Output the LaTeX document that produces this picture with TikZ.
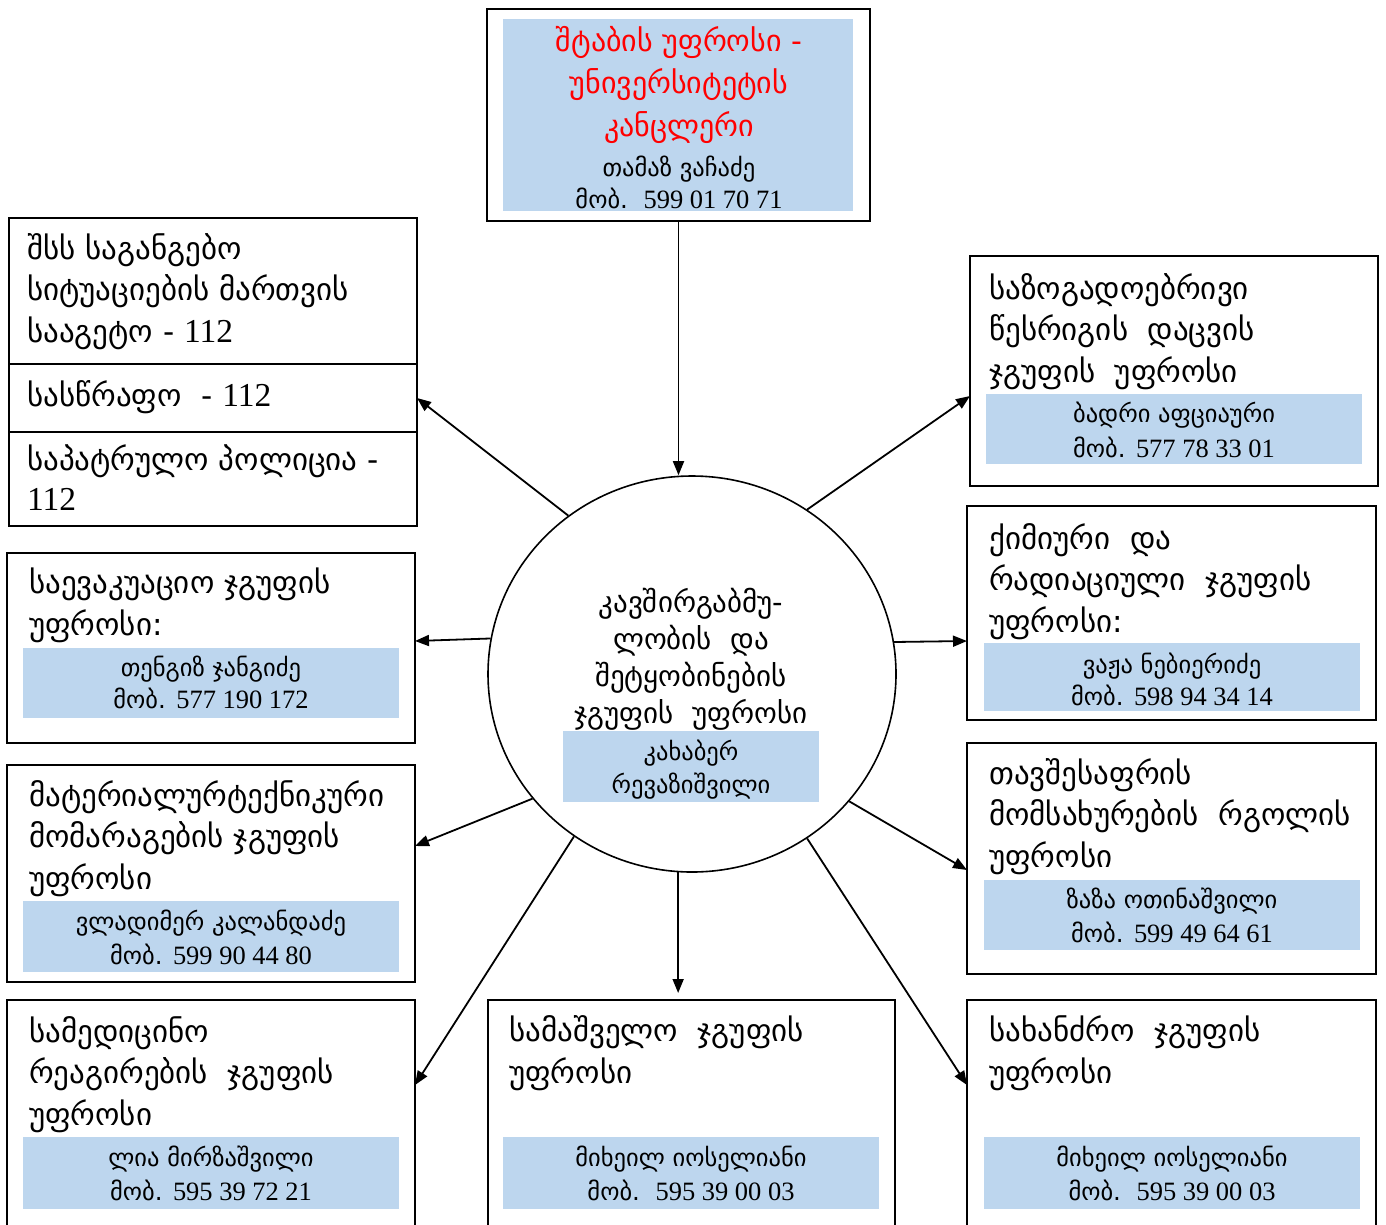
\documentclass[tikz,border=0pt]{standalone}
\usepackage{fontspec}
\setmainfont{DejaVu Sans}
\newfontfamily\numfont{Liberation Serif}[Scale=1.08]
\newcommand\dg[1]{{\numfont #1}}
\usetikzlibrary{shapes.geometric,arrows.meta}
\definecolor{bluefill}{HTML}{BDD6EE}
\definecolor{redtxt}{HTML}{FF0000}
\begin{document}
\begin{tikzpicture}[x=1pt,y=-1pt,
  box/.style={draw, line width=1.8pt, anchor=north west, inner sep=0pt, outer sep=0pt},
  bluebox/.style={fill=bluefill, anchor=north west, inner sep=0pt, outer sep=0pt},
  ttl/.style={font=\fontsize{31}{41.5}\selectfont, align=left, anchor=base west, inner sep=0pt},
  nm/.style={font=\fontsize{24.5}{33}\selectfont, align=center, anchor=base, inner sep=0pt},
  arr/.style={-{Triangle[length=14pt,width=11pt]}, line width=1.8pt}]
\useasboundingbox (0,0) rectangle (1386,1224);

% top box
\node[box, minimum width=383, minimum height=212] (top) at (487,9) {};
\node[bluebox, minimum width=350, minimum height=192] (topb) at (503,19) {};
\node[font=\fontsize{30}{42.5}\selectfont, text=redtxt, align=center, anchor=base, inner sep=0pt] (toph) at (679,136) {შტაბის უფროსი -\\უნივერსიტეტის\\კანცლერი};
\node[nm, font=\fontsize{24.5}{32}\selectfont] (topn) at (679,208) {თამაზ ვაჩაძე\\მობ.\ \ \dg{599 01 70 71}};

% left top group
\node[box, minimum width=408, minimum height=146] (lt1) at (9,218) {};
\node[box, minimum width=408, minimum height=68] (lt2) at (9,364) {};
\node[box, minimum width=408, minimum height=94] (lt3) at (9,432) {};
\node[ttl] (lt1t) at (27,342) {შსს საგანგებო\\სიტუაციების მართვის\\სააგეტო - \dg{112}};
\node[ttl] (lt2t) at (27,406) {სასწრაფო\ \ - \dg{112}};
\node[ttl, font=\fontsize{31}{40}\selectfont] (lt3t) at (27,510) {საპატრულო პოლიცია -\\\dg{112}};

% right top
\node[box, minimum width=408, minimum height=230] (rt) at (970,256) {};
\node[bluebox, minimum width=376, minimum height=70] (rtb) at (986,394) {};
\node[ttl] (rtt) at (989,382) {საზოგადოებრივი\\წესრიგის\ \ დაცვის\\ჯგუფის\ \ უფროსი};
\node[nm, font=\fontsize{24.5}{35}\selectfont] (rtn) at (1174,457) {ბადრი აფციაური\\მობ. \dg{577 78 33 01}};

% evacuation
\node[box, minimum width=408, minimum height=190] (ev) at (7,553) {};
\node[bluebox, minimum width=376, minimum height=70] (evb) at (23,648) {};
\node[ttl] (evt) at (29,635) {საევაკუაციო ჯგუფის\\უფროსი:};
\node[nm, font=\fontsize{24.5}{31.5}\selectfont] (evn) at (211,708) {თენგიზ ჯანგიძე\\მობ. \dg{577 190 172}};

% chemical
\node[box, minimum width=409, minimum height=214] (ch) at (967,506) {};
\node[bluebox, minimum width=376, minimum height=68] (chb) at (984,643) {};
\node[ttl] (cht) at (989,632) {ქიმიური\ \ და\\რადიაციული\ \ ჯგუფის\\უფროსი:};
\node[nm, font=\fontsize{24.5}{32}\selectfont] (chn) at (1172,705) {ვაჟა ნებიერიძე\\მობ. \dg{598 94 34 14}};

% centre
\node[draw, ellipse, line width=1.6pt, minimum width=408, minimum height=396, inner sep=0pt] (c) at (692,674) {};
\node[bluebox, minimum width=256, minimum height=71] (cb) at (563,731) {};
\node[font=\fontsize{29}{36.7}\selectfont, align=center, anchor=base, inner sep=0pt] (ct) at (691,723) {კავშირგაბმუ-\\ლობის\ \ და\\შეტყობინების\\ჯგუფის\ \ უფროსი};
\node[nm] (cn) at (691,793) {კახაბერ\\რევაზიშვილი};

% material
\node[box, minimum width=408, minimum height=217] (mt) at (7,765) {};
\node[bluebox, minimum width=376, minimum height=71] (mtb) at (23,901) {};
\node[ttl] (mtt) at (29,889) {მატერიალურტექნიკური\\მომარაგების ჯგუფის\\უფროსი};
\node[nm, font=\fontsize{24.5}{34}\selectfont] (mtn) at (211,964) {ვლადიმერ კალანდაძე\\მობ. \dg{599 90 44 80}};

% shelter
\node[box, minimum width=409, minimum height=231] (sh) at (967,743) {};
\node[bluebox, minimum width=376, minimum height=70] (shb) at (984,880) {};
\node[ttl] (sht) at (989,867) {თავშესაფრის\\მომსახურების\ \ რგოლის\\უფროსი};
\node[nm, font=\fontsize{24.5}{34}\selectfont] (shn) at (1172,942) {ზაზა ოთინაშვილი\\მობ. \dg{599 49 64 61}};

% bottom left
\node[box, minimum width=408, minimum height=240] (bl) at (7,1000) {};
\node[bluebox, minimum width=376, minimum height=72] (blb) at (23,1137) {};
\node[ttl] (blt) at (29,1125) {სამედიცინო\\რეაგირების\ \ ჯგუფის\\უფროსი};
\node[nm, font=\fontsize{24.5}{34}\selectfont] (bln) at (211,1200) {ლია მირზაშვილი\\მობ. \dg{595 39 72 21}};

% bottom middle
\node[box, minimum width=407, minimum height=240] (bm) at (488,1000) {};
\node[bluebox, minimum width=376, minimum height=72] (bmb) at (503,1137) {};
\node[ttl] (bmt) at (509,1083) {სამაშველო\ \ ჯგუფის\\უფროსი};
\node[nm, font=\fontsize{24.5}{34}\selectfont] (bmn) at (691,1200) {მიხეილ იოსელიანი\\მობ.\ \ \dg{595 39 00 03}};

% bottom right
\node[box, minimum width=409, minimum height=240] (br) at (967,1000) {};
\node[bluebox, minimum width=376, minimum height=72] (brb) at (984,1137) {};
\node[ttl] (brt) at (989,1083) {სახანძრო\ \ ჯგუფის\\უფროსი};
\node[nm, font=\fontsize{24.5}{34}\selectfont] (brn) at (1172,1200) {მიხეილ იოსელიანი\\მობ.\ \ \dg{595 39 00 03}};

% arrows
\draw[arr] (top.south) -- (top.south |- c.north);
\draw[arr] (c.128.9) -- (lt2.east);
\draw[arr] (c.55.1) -- (rt.west |- 0,396);
\draw[arr] (c.170.8) -- (ev.east |- 0,641);
\draw[arr] (c.9.2) -- (ch.west |- 0,641);
\draw[arr] (c.218.7) -- (mt.east |- 0,846);
\draw[arr] (c.321.4) -- (sh.west |- 0,870);
\draw[arr] (c.234.1) -- (bl.east |- 0,1085);
\draw[arr, shorten >=7pt] (c.266.2) -- (c.266.2 |- bm.north);
\draw[arr] (c.305.4) -- (br.west |- 0,1085);
\end{tikzpicture}
\end{document}
